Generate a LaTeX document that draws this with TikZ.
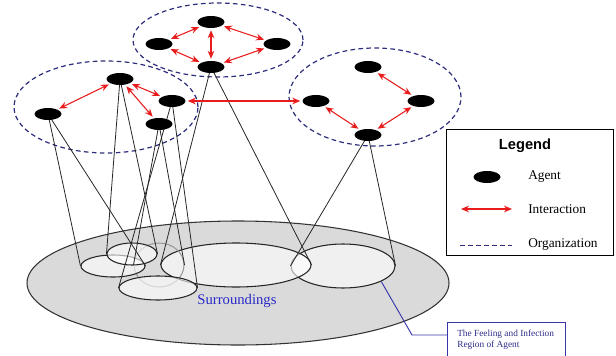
\documentclass[tikz,border=0pt]{standalone}
\usepackage{fontspec}
\setmainfont{Liberation Serif}
\newfontfamily\headfont{Liberation Sans}
\usetikzlibrary{shapes.geometric,arrows.meta,calc}

\definecolor{orgblue}{RGB}{45,45,125}
\definecolor{actred}{RGB}{232,28,28}
\definecolor{surrgray}{RGB}{218,218,218}
\definecolor{labelblue}{RGB}{40,40,200}
\definecolor{calloutblue}{RGB}{55,55,170}
\newcommand\pxu{0.75pt}

\begin{document}
\begin{tikzpicture}[x=0.75pt, y=-0.75pt,
  agent/.style={ellipse, fill=black, minimum width=27*\pxu, minimum height=12*\pxu, inner sep=0pt},
  orgline/.style={draw=orgblue, dash pattern=on 3.5pt off 2.5pt, line width=0.9pt},
  org/.style={ellipse, orgline, inner sep=0pt},
  region/.style={ellipse, draw=black!85, fill=white, fill opacity=0.6, line width=0.8pt, inner sep=0pt},
  faded/.style={ellipse, draw=black!40, line width=0.8pt, inner sep=0pt},
  link/.style={draw=black!85, line width=0.6pt},
  interact/.style={draw=actred, line width=0.8pt,
    {Stealth[length=6pt,width=5pt]}-{Stealth[length=6pt,width=5pt]},
    shorten <=1.5pt, shorten >=1.5pt},
  legtext/.style={anchor=west, font=\fontsize{10}{12}\selectfont, inner sep=0pt}]
\useasboundingbox (0,0) rectangle (616,356);

% the surroundings and the sensing regions of the agents
\node[ellipse, draw=black!80, fill=surrgray, line width=0.8pt, inner sep=0pt,
      minimum width=422*\pxu, minimum height=124*\pxu] (S) at (238,283) {};
\node[region, minimum width=104*\pxu, minimum height=44*\pxu] (E6) at (343,266) {};
\node[region, minimum width=150*\pxu, minimum height=44*\pxu] (E5) at (236,265) {};
\node[faded,  minimum width=50*\pxu,  minimum height=44*\pxu] (E3) at (159,265) {};
\node[region, minimum width=64*\pxu,  minimum height=22*\pxu] (E1) at (113,266) {};
\node[region, minimum width=50*\pxu,  minimum height=22*\pxu] (E2) at (132,254) {};
\node[region, minimum width=78*\pxu,  minimum height=24*\pxu] (E4) at (158,288) {};
\node[text=labelblue, font=\fontsize{11}{13}\selectfont] (surr) at (237,301) {Surroundings};

% organizations
\node[org, minimum width=170*\pxu, minimum height=74*\pxu] (OT) at (218,40) {};
\node[org, minimum width=184*\pxu, minimum height=92*\pxu] (OL) at (106,107) {};
\node[org, minimum width=172*\pxu, minimum height=98*\pxu] (OR) at (375,97) {};

% agent positions
\coordinate (pA1) at (211,22);  \coordinate (pA2) at (159,44);
\coordinate (pA3) at (277,44);  \coordinate (pA4) at (211,67);
\coordinate (pB1) at (120,79);  \coordinate (pB2) at (48,114);
\coordinate (pB3) at (172,101); \coordinate (pB4) at (159,124);
\coordinate (pC1) at (368,67);  \coordinate (pC2) at (316,101);
\coordinate (pC3) at (421,101); \coordinate (pC4) at (368,135);

% cones from each agent down to its region
\draw[link] (pB2) -- (E1.west) (pB2) -- (E1.east);
\draw[link] (pB1) -- (E2.west) (pB1) -- (E2.east);
\draw[link] (pB4) -- (E3.west) (pB4) -- (E3.east);
\draw[link] (pB3) -- (E4.west) (pB3) -- (E4.east);
\draw[link] (pA4) -- (E5.west) (pA4) -- (E5.east);
\draw[link] (pC4) -- (E6.west) (pC4) -- (E6.east);

% agents
\foreach \n in {A1,A2,A3,A4,B1,B2,B3,B4,C1,C2,C3,C4}
  \node[agent] (\n) at (p\n) {};

% interactions
\draw[interact] (A1) -- (A2);
\draw[interact] (A1) -- (A3);
\draw[interact] (A1) -- (A4);
\draw[interact] (A2) -- (A4);
\draw[interact] (A3) -- (A4);
\draw[interact] (B1) -- (B2);
\draw[interact] (B1) -- (B3);
\draw[interact] (B1) -- (B4);
\draw[interact] (B3) -- (C2);
\draw[interact] (C1) -- (C3);
\draw[interact] (C3) -- (C4);
\draw[interact] (C2) -- (C4);

% legend
\node[draw, line width=0.7pt, anchor=north west, inner sep=0pt,
      minimum width=167*\pxu, minimum height=126*\pxu] (legend) at (446,129) {};
\node[font=\headfont\bfseries\fontsize{11}{13}\selectfont] (legtitle) at (525,146) {Legend};
\node[agent] (LA) at (487,177) {};
\node[legtext] (LAt) at (528,177) {Agent};
\coordinate (LIa) at (459,209); \coordinate (LIb) at (514,209);
\draw[interact] (LIa) -- (LIb);
\node[legtext] (LIt) at (528,209) {Interaction};
\coordinate (LOa) at (460,245); \coordinate (LOb) at (512,245);
\draw[orgline, line width=0.6pt] (LOa) -- (LOb);
\node[legtext] (LOt) at (528,245) {Organization};

% callout for a sensing region
\node[draw=calloutblue, line width=0.7pt, anchor=north west, inner sep=0pt,
      minimum width=118*\pxu, minimum height=44*\pxu] (callout) at (447,322) {};
\node[anchor=north west, align=left, inner sep=0pt, text=calloutblue!80!black,
      font=\fontsize{7}{8.3}\selectfont] (calltext) at (457,330)
  {The Feeling and Infection\\Region of Agent};
\coordinate (knee) at (412,335);
\draw[calloutblue, line width=0.7pt] (E6.-22) -- (knee) -- (knee -| callout.west);
\end{tikzpicture}
\end{document}
